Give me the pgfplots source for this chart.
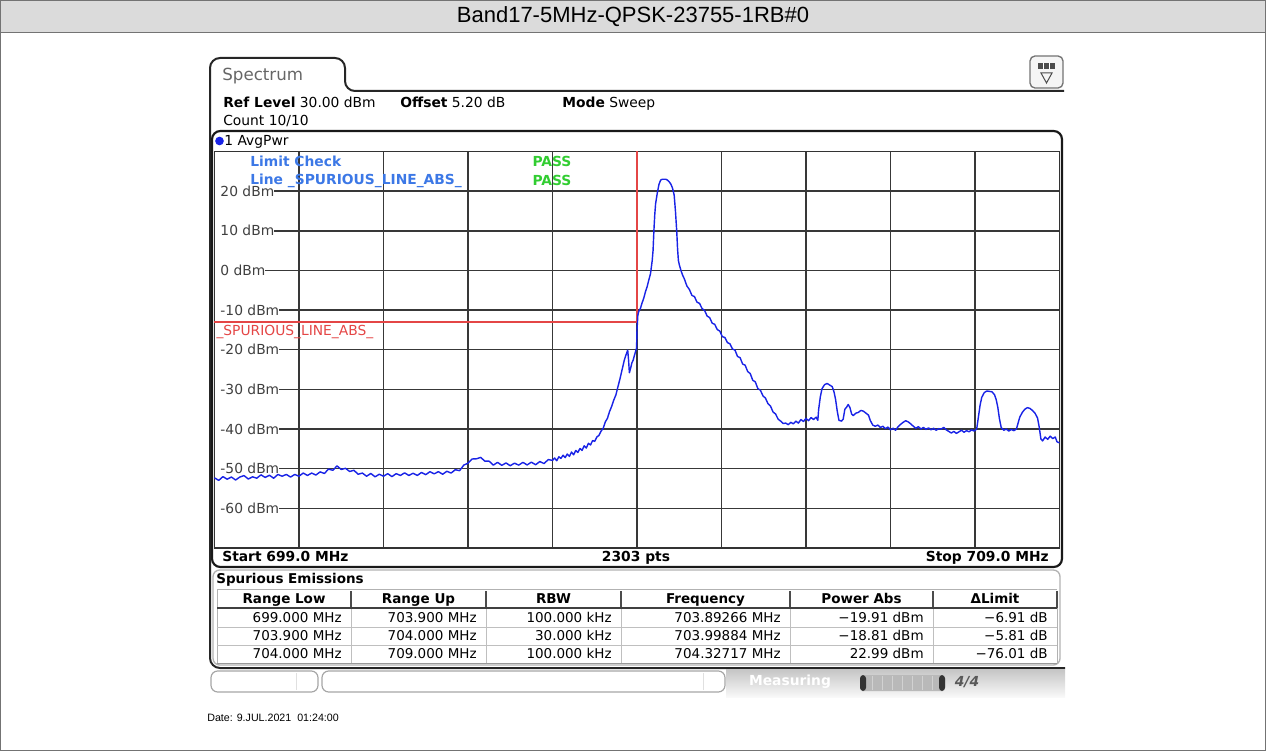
\documentclass[border=0pt]{standalone}
\usepackage{pgfplots}
\pgfplotsset{compat=1.18}
\usepackage{fontspec}
\setmainfont{DejaVu Sans}
\newfontfamily\arial{Liberation Sans}
\newcommand\rs{\fontsize{8.3}{9.5}\selectfont}
\newcommand\rt{\fontsize{8.1}{9.5}\selectfont}
\definecolor{trace}{RGB}{25,35,230}
\definecolor{lim}{RGB}{228,70,70}
\definecolor{lblue}{RGB}{60,120,230}
\definecolor{lgreen}{RGB}{50,205,50}
\begin{document}
\begin{tikzpicture}
\begin{scope}[x=0.6pt,y=-0.6pt]
\useasboundingbox (0,0) rectangle (1266,751);
% title bar and outer frame
\fill[gray!28] (0,0) rectangle (1266,33);
\draw[black!55, line width=0.6pt] (0.3,0.3) rectangle (1265.7,750.7);
\draw[black!55, line width=0.6pt] (0,33) -- (1266,33);
\node[font=\arial\fontsize{13.2}{15}\selectfont] at (633,17) {Band17-5MHz-QPSK-23755-1RB\#0};
% window frame with tab
\draw[line width=1.2pt, black!85, rounded corners=6] (1065,668) -- (210,668) -- (210,58) -- (345,58) -- (345,91) -- (1064,91);
\node[anchor=base west, inner sep=0, text=black!60, font=\fontsize{10}{12}\selectfont] at (222,80.5) {Spectrum};
% icon
\draw[black!55, rounded corners=3, line width=0.8pt, fill=gray!8] (1030,56) rectangle (1063,88);
\fill[black!70] (1038,63) rectangle (1055,69);
\draw[white, line width=0.4pt] (1043,63) -- (1043,69) (1049,63) -- (1049,69);
\draw[black!70, line width=0.6pt] (1041,73) -- (1052,73) -- (1046.5,83) -- cycle;
% header texts
\node[anchor=base west, inner sep=0, font=\rs] at (223,108) {\textbf{Ref Level}\ 30.00 dBm};
\node[anchor=base west, inner sep=0, font=\rs] at (400,108) {\textbf{Offset}\ 5.20 dB};
\node[anchor=base west, inner sep=0, font=\rs] at (562,108) {\textbf{Mode}\ Sweep};
\node[anchor=base west, inner sep=0, font=\rs] at (223,126) {Count 10/10};
% diagram panel
\draw[line width=1.3pt, black!90, rounded corners=5] (212,131) rectangle (1062,567);
\fill[trace] (219.5,141) circle[radius=2.6pt];
\node[anchor=base west, inner sep=0, font=\rs] at (224,145.5) {1 AvgPwr};
\end{scope}
\begin{axis}[at={(128.7pt,-90.9pt)}, anchor=north west, width=507pt, height=237.9pt, scale only axis,
  xmin=699, xmax=709, ymin=-70, ymax=30,
  xtick={700,...,708}, ytick={-60,-50,...,20}, xticklabels={}, yticklabels={},
  major tick length=0pt, grid=major, major grid style={black!78, line width=0.9pt},
  axis line style={black!80, line width=0.9pt}, clip=false]
\foreach \v in {20,10,0,-10,-20,-30,-40,-50,-60} {
  \edef\tmp{\noexpand\node[anchor=west, fill=white, inner xsep=0pt, inner ysep=1.2pt, text=black!75, font=\noexpand\rs] at (axis cs:699,\v) {\noexpand\hspace{3.4pt}\v{} dBm};}
  \tmp
}
\node[anchor=west, inner sep=0, text=lblue, font=\rs\bfseries] at (axis cs:699.42,27.6) {Limit Check};
\node[anchor=west, inner sep=0, text=lblue, font=\rs\bfseries] at (axis cs:699.42,22.6) {Line \_SPURIOUS\_LINE\_ABS\_};
\node[anchor=west, inner sep=0, text=lgreen, font=\rs\bfseries] at (axis cs:702.76,27.6) {PASS};
\node[anchor=west, inner sep=0, text=lgreen, font=\rs\bfseries] at (axis cs:702.76,22.6) {PASS};
\node[anchor=west, inner sep=0, text=lim, font=\rs] at (axis cs:699.02,-15.5) {\_SPURIOUS\_LINE\_ABS\_};
\addplot[lim, line width=0.7pt] coordinates {(699,-13) (704,-13) (704,30)};
\addplot[trace, line width=0.85pt, line join=round] coordinates {
(699.00,-52.3) (699.05,-52.95) (699.10,-52.0) (699.15,-52.65) (699.20,-52.1) (699.25,-52.85) (699.30,-52.1) (699.35,-51.75)
(699.40,-52.6) (699.45,-52.05) (699.50,-52.4) (699.55,-51.55) (699.60,-52.2) (699.65,-51.65) (699.70,-52.4) (699.75,-51.45)
(699.80,-51.9) (699.85,-51.45) (699.90,-52.1) (699.95,-51.45) (700.00,-51.9) (700.05,-51.1) (700.10,-51.7) (700.15,-51.1)
(700.20,-51.6) (700.25,-50.8) (700.30,-51.2) (700.35,-50.1) (700.40,-50.4) (700.45,-49.3) (700.50,-50.2) (700.55,-49.9)
(700.60,-50.7) (700.65,-50.4) (700.70,-51.4) (700.75,-51.1) (700.80,-51.9) (700.85,-51.2) (700.90,-52.05) (700.95,-51.4)
(701.00,-51.9) (701.05,-51.25) (701.10,-52.0) (701.15,-51.25) (701.20,-51.7) (701.25,-51.05) (701.30,-51.7) (701.35,-51.15)
(701.40,-51.7) (701.45,-50.95) (701.50,-51.5) (701.55,-50.75) (701.60,-51.3) (701.65,-50.75) (701.70,-51.4) (701.75,-50.65)
(701.80,-51.1) (701.85,-50.25) (701.90,-50.5) (701.95,-49.1) (702.00,-48.6) (702.05,-47.55) (702.10,-47.5) (702.15,-47.15)
(702.20,-48.1) (702.25,-48.1) (702.30,-49.1) (702.35,-48.4) (702.40,-49.15) (702.45,-48.55) (702.50,-49.25) (702.55,-48.6)
(702.60,-49.1) (702.65,-48.4) (702.70,-49.05) (702.75,-48.35) (702.80,-49.0) (702.85,-48.2) (702.90,-48.7) (702.95,-47.7)
(703.000,-47.9) (703.025,-47.3) (703.050,-48.0) (703.075,-47.0) (703.100,-47.4) (703.125,-46.6) (703.150,-47.2) (703.175,-46.3)
(703.200,-46.9) (703.225,-45.8) (703.250,-46.5) (703.275,-45.4) (703.300,-45.9) (703.325,-44.9) (703.350,-45.4) (703.375,-44.2)
(703.400,-44.8) (703.425,-43.6) (703.450,-44.0) (703.475,-42.9) (703.500,-43.1) (703.525,-42.0) (703.550,-41.6) (703.575,-40.5)
(703.600,-39.8) (703.625,-38.2) (703.650,-37.3) (703.675,-35.6) (703.700,-34.3) (703.725,-32.7) (703.750,-31.4) (703.775,-29.3)
(703.800,-27.2) (703.825,-24.9) (703.850,-22.6) (703.870,-21.3) (703.890,-20.1) (703.900,-22.5) (703.910,-25.8) (703.925,-24.6)
(703.940,-23.3) (703.955,-22.6) (703.970,-21.4) (703.985,-20.3) (703.995,-19.6) (704.000,-15.0) (704.010,-11.3)
(704.02,-10.4) (704.04,-9.6) (704.06,-8.2) (704.08,-7.0) (704.10,-5.4) (704.12,-4.1) (704.14,-2.4) (704.16,-0.8)
(704.18,2.5) (704.19,5.0) (704.20,10.0) (704.21,14.0) (704.22,16.8) (704.24,19.5) (704.26,21.7) (704.28,22.8)
(704.30,23.0) (704.32,23.0) (704.34,23.0) (704.36,22.8) (704.38,22.4) (704.40,21.8) (704.42,20.8) (704.44,19.0)
(704.455,15.0) (704.47,10.0) (704.48,5.5) (704.49,2.5) (704.50,1.5) (704.52,0.0) (704.54,-1.2)
(704.56,-2.1) (704.59,-3.9) (704.62,-4.8) (704.65,-6.3) (704.68,-6.6) (704.71,-8.0) (704.74,-8.3) (704.77,-9.6)
(704.80,-10.1) (704.83,-11.5) (704.86,-11.9) (704.89,-13.3) (704.92,-13.6) (704.95,-14.9) (704.98,-15.3) (705.01,-16.7)
(705.04,-16.9) (705.07,-18.2) (705.10,-18.5) (705.13,-19.8) (705.16,-20.1) (705.19,-21.7) (705.22,-22.0) (705.25,-23.6)
(705.28,-23.9) (705.31,-25.5) (705.34,-26.0) (705.37,-27.7) (705.40,-28.1) (705.43,-29.8) (705.46,-30.2) (705.49,-31.6)
(705.52,-32.2) (705.55,-33.6) (705.58,-34.2) (705.61,-35.7) (705.64,-36.2) (705.67,-37.5) (705.70,-38.0) (705.73,-38.6)
(705.76,-38.5) (705.79,-38.9) (705.82,-38.3) (705.85,-38.7) (705.88,-38.0) (705.91,-38.5) (705.94,-37.6) (705.97,-38.1)
(706.00,-37.3) (706.03,-37.9) (706.06,-37.1) (706.09,-37.6) (706.12,-37.0) (706.14,-37.8) (706.15,-35.0) (706.17,-31.8)
(706.19,-29.8) (706.22,-28.8) (706.25,-28.5) (706.28,-28.9) (706.31,-29.3) (706.33,-30.5) (706.35,-32.5) (706.37,-35.5)
(706.39,-37.8) (706.42,-38.0) (706.44,-37.5) (706.46,-35.0) (706.48,-34.5) (706.50,-33.8) (706.52,-34.6) (706.54,-36.2)
(706.56,-36.6) (706.59,-36.0) (706.62,-35.8) (706.65,-35.3) (706.68,-35.5) (706.71,-36.0) (706.74,-36.5) (706.76,-37.8)
(706.79,-39.0) (706.82,-39.3) (706.85,-39.0) (706.88,-39.6) (706.91,-39.3) (706.94,-39.9) (706.97,-39.5) (707.00,-40.2)
(707.03,-39.8) (707.06,-40.3) (707.09,-39.4) (707.12,-38.8) (707.15,-38.3) (707.18,-37.9) (707.21,-38.2) (707.24,-38.7)
(707.27,-39.3) (707.30,-39.8) (707.33,-39.4) (707.36,-40.0) (707.39,-39.6) (707.42,-40.1) (707.45,-39.7) (707.48,-40.2)
(707.51,-39.8) (707.54,-40.3) (707.57,-39.9) (707.60,-40.0) (707.63,-39.6) (707.66,-40.2) (707.69,-40.6) (707.72,-41.0)
(707.75,-40.6) (707.78,-41.1) (707.81,-40.7) (707.84,-40.3) (707.87,-40.8) (707.90,-40.4) (707.93,-40.7) (707.96,-40.2)
(707.99,-40.5) (708.02,-40.0) (708.04,-37.0) (708.06,-34.0) (708.08,-32.0) (708.11,-30.8) (708.14,-30.4) (708.17,-30.5)
(708.20,-30.6) (708.23,-31.3) (708.25,-32.5) (708.27,-34.5) (708.29,-37.5) (708.31,-39.6) (708.34,-40.3) (708.37,-40.0)
(708.40,-40.5) (708.43,-40.1) (708.46,-40.4) (708.49,-40.0) (708.51,-38.5) (708.53,-37.0) (708.56,-35.8) (708.59,-35.0)
(708.62,-34.6) (708.65,-34.8) (708.68,-35.3) (708.71,-36.0) (708.74,-37.2) (708.76,-39.5) (708.78,-42.5) (708.80,-43.0)
(708.83,-42.0) (708.86,-42.6) (708.89,-41.8) (708.92,-42.4) (708.95,-42.0) (708.97,-43.2) (709.00,-43.5)
};
\end{axis}
\begin{scope}[x=0.6pt,y=-0.6pt]
% bottom row of diagram
\node[anchor=base west, inner sep=0, font=\rs\bfseries] at (222,561.5) {Start 699.0 MHz};
\node[anchor=base, inner sep=0, font=\rs\bfseries] at (636,561.5) {2303 pts};
\node[anchor=base east, inner sep=0, font=\rs\bfseries] at (1049,561.5) {Stop 709.0 MHz};
% table
\draw[black!30, rounded corners=4, line width=0.8pt] (213,570) rectangle (1060,665);
\node[anchor=base west, inner sep=0, font=\rt\bfseries] at (216,583.5) {Spurious Emissions};
\draw[black!30, line width=0.6pt] (217,589) -- (1057,589);
\draw[black!30, line width=0.6pt] (217,589) -- (217,663);
\foreach \c in {351,486,621,790,933} {\draw[black!70, line width=0.9pt] (\c,591) -- (\c,608);}
\foreach \c in {351,486,621,790,933} {\draw[black!25, line width=0.6pt] (\c,608) -- (\c,663);}
\draw[black!70, line width=0.9pt] (1057,591) -- (1057,608);
\draw[black!30, line width=0.6pt] (1057,608) -- (1057,663);
\draw[black!25, line width=0.6pt] (217,627) -- (1057,627) (217,645) -- (1057,645);
\draw[black!40, line width=0.6pt] (217,663) -- (1057,663);
\draw[black!75, line width=1.1pt] (217,608) -- (1057,608);
\foreach \x/\t in {284/Range Low,418.5/Range Up,553.5/RBW,705.5/Frequency,861.5/Power Abs,995/ΔLimit}{
  \node[anchor=base, inner sep=0, font=\rt\bfseries] at (\x,603.5) {\t};}
\foreach \y/\a/\b/\c/\d/\e/\f in {
 622.5/699.000 MHz/703.900 MHz/100.000 kHz/703.89266 MHz/−19.91 dBm/−6.91 dB,
 640.5/703.900 MHz/704.000 MHz/30.000 kHz/703.99884 MHz/−18.81 dBm/−5.81 dB,
 658.5/704.000 MHz/709.000 MHz/100.000 kHz/704.32717 MHz/22.99 dBm/−76.01 dB}{
  \node[anchor=base east, inner sep=0, font=\rt] at (342,\y) {\a};
  \node[anchor=base east, inner sep=0, font=\rt] at (477,\y) {\b};
  \node[anchor=base east, inner sep=0, font=\rt] at (612,\y) {\c};
  \node[anchor=base east, inner sep=0, font=\rt] at (781,\y) {\d};
  \node[anchor=base east, inner sep=0, font=\rt] at (924,\y) {\e};
  \node[anchor=base east, inner sep=0, font=\rt] at (1048,\y) {\f};
}
% status bar
\shade[top color=gray!45, bottom color=gray!5] (726,669.5) rectangle (1065,697);
\draw[black!35, rounded corners=4, line width=0.7pt] (211,671) rectangle (318,692);
\draw[black!12, line width=0.5pt] (296,673) -- (296,690);
\draw[black!35, rounded corners=4, line width=0.7pt] (322,671) rectangle (725,692);
\draw[black!12, line width=0.5pt] (703,673) -- (703,690);
\node[inner sep=0, text=white, font=\rs\bfseries] at (790,682) {Measuring};
\fill[gray!55, rounded corners=2] (860,675) rectangle (945,691);
\foreach \s in {872,882,892,902,912,922,932} {\draw[gray!35, line width=0.5pt] (\s,676) -- (\s,690);}
\fill[black!80, rounded corners=2] (860,675) rectangle (866,691);
\fill[black!80, rounded corners=2] (939,675) rectangle (945,691);
\node[inner sep=0, text=black!65, font=\rs\bfseries\itshape] at (967,682) {4/4};
% date
\node[anchor=west, inner sep=0, font=\arial\fontsize{6.4}{8}\selectfont] at (207,718) {Date: 9.JUL.2021\ \ 01:24:00};
\end{scope}
\end{tikzpicture}
\end{document}
